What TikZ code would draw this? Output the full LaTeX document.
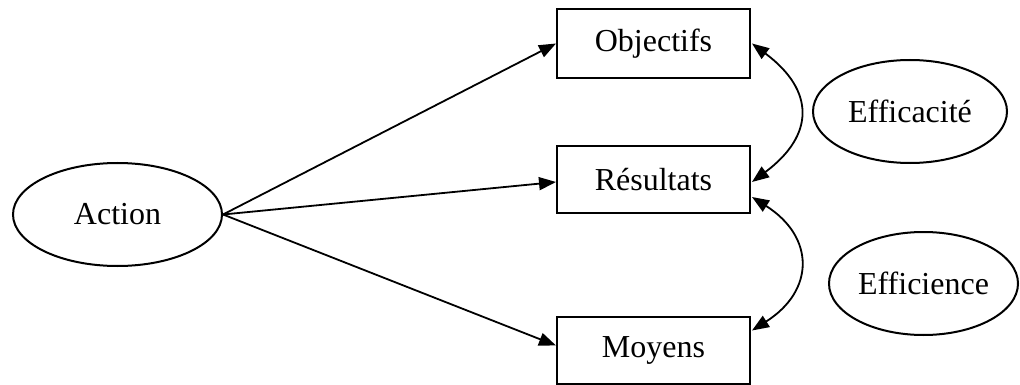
\documentclass[tikz,border=0pt]{standalone}
\usepackage{fontspec}
\setmainfont{Liberation Serif}
\usetikzlibrary{shapes.geometric,arrows.meta}
\begin{document}
\begin{tikzpicture}[x=1pt,y=-1pt,
  every node/.style={font=\fontsize{32}{38}\selectfont, line width=2pt, inner sep=0pt},
  ell/.style={draw, ellipse},
  boxn/.style={draw, rectangle, minimum width=193pt},
  arr/.style={line width=1.8pt, -{Triangle[length=17pt,width=13pt]}},
  dbl/.style={line width=1.8pt, {Triangle[length=17pt,width=13pt]}-{Triangle[length=17pt,width=13pt]}}]
\useasboundingbox (0,0) rectangle (1020,385);
\node[ell, minimum width=209pt, minimum height=103pt] (action) at (117.5,214.5) {Action};
\node[boxn, minimum height=69pt] (obj) at (653.5,43.5) {Objectifs};
\node[boxn, minimum height=67pt] (res) at (653.5,179.5) {Résultats};
\node[boxn, minimum height=67pt] (moy) at (653.5,350.5) {Moyens};
\node[ell, minimum width=194pt, minimum height=103pt] (effa) at (910,111.5) {Efficacité};
\node[ell, minimum width=189pt, minimum height=103pt] (effi) at (923.5,283.5) {Efficience};
\draw[arr] (action.east) -- (obj.west);
\draw[arr] (action.east) -- ([yshift=-2.5pt]res.west);
\draw[arr] (action.east) -- ([yshift=5pt]moy.west);
\draw[dbl] ([xshift=1pt]obj.east) .. controls +(63,47) and +(63,-47) .. ([xshift=1pt,yshift=-2.5pt]res.east);
\draw[dbl] ([xshift=1pt,yshift=-17.5pt]res.east) .. controls +(63,40) and +(63,-40) .. ([xshift=1pt,yshift=20pt]moy.east);
\end{tikzpicture}
\end{document}
